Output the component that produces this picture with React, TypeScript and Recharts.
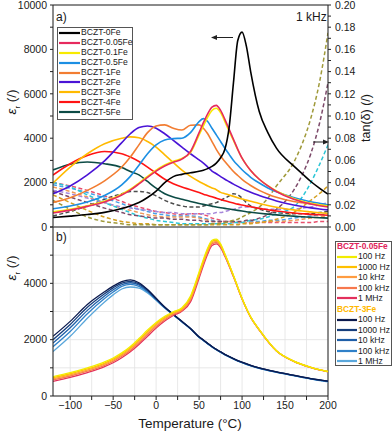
import { CartesianGrid, ComposedChart, Line, ReferenceLine, XAxis, YAxis } from "recharts";

const FONT = "'Liberation Sans', Arial, sans-serif";

// ---- panel a) : 1 kHz permittivity + loss tangent ----
const tempsA = [-120, -100, -80, -60, -40, -30, -20, -10, 0, 10, 20, 30, 40, 50, 55, 60, 65, 70, 75, 80, 85, 90, 95, 100, 105, 110, 120, 130, 140, 160, 170, 180, 190, 200];

const eps0Fe = [430, 490, 560, 660, 830, 950, 1100, 1330, 1620, 2000, 2270, 2370, 2440, 2510, 2560, 2630, 2730, 2880, 3120, 3500, 4500, 6500, 8400, 8780, 8150, 7000, 5200, 4250, 3550, 2750, 2400, 2050, 1750, 1480];
const eps005Fe = [630, 760, 930, 1130, 1440, 1660, 1940, 2240, 2520, 2750, 2920, 3060, 3400, 4250, 4700, 5100, 5400, 5480, 5250, 4850, 4400, 3950, 3500, 3100, 2800, 2550, 2150, 1850, 1600, 1250, 1130, 1040, 960, 900];
const eps01Fe = [680, 800, 960, 1160, 1480, 1700, 1980, 2280, 2560, 2790, 2960, 3090, 3350, 4150, 4550, 4950, 5250, 5350, 5150, 4750, 4300, 3900, 3480, 3100, 2800, 2550, 2150, 1860, 1620, 1280, 1160, 1070, 1000, 950];
const eps05Fe = [820, 950, 1130, 1420, 1900, 2280, 2780, 3300, 3700, 3920, 3980, 4000, 4250, 4750, 4880, 4750, 4450, 4150, 3850, 3550, 3270, 3000, 2780, 2580, 2400, 2240, 1980, 1760, 1590, 1330, 1230, 1140, 1070, 1000];
const eps1Fe = [1110, 1320, 1650, 2080, 2700, 3150, 3700, 4250, 4550, 4600, 4450, 4370, 4580, 4600, 4450, 4200, 3850, 3500, 3200, 2950, 2720, 2500, 2320, 2150, 2000, 1870, 1650, 1480, 1340, 1150, 1090, 1040, 1000, 970];
const eps2Fe = [1500, 1850, 2350, 2980, 3800, 4200, 4480, 4550, 4450, 4200, 3900, 3600, 3300, 3020, 2880, 2700, 2520, 2400, 2270, 2150, 2040, 1930, 1830, 1730, 1640, 1560, 1420, 1290, 1170, 990, 920, 860, 810, 770];
const eps3Fe = [1980, 2700, 3300, 3750, 4000, 4060, 4020, 3850, 3600, 3250, 2900, 2560, 2280, 2050, 1950, 1850, 1760, 1680, 1560, 1500, 1440, 1380, 1320, 1260, 1210, 1160, 1060, 970, 890, 770, 720, 680, 640, 610];
const eps4Fe = [2340, 2850, 3220, 3400, 3300, 3150, 2950, 2700, 2420, 2150, 1950, 1800, 1680, 1550, 1480, 1420, 1360, 1300, 1240, 1180, 1130, 1080, 1030, 990, 950, 910, 840, 780, 720, 630, 600, 570, 550, 530];
const eps5Fe = [2570, 2830, 2930, 2850, 2680, 2500, 2350, 2050, 1750, 1500, 1350, 1250, 1150, 1060, 1020, 980, 940, 900, 870, 840, 810, 780, 750, 720, 690, 665, 620, 580, 545, 490, 465, 440, 420, 400];

const tanGray = [0.010, 0.014, 0.019, 0.025, 0.030, 0.032, 0.032, 0.031, 0.028, 0.024, 0.021, 0.019, 0.018, 0.018, 0.019, 0.020, 0.021, 0.022, 0.024, 0.026, 0.028, 0.030, 0.029, 0.026, 0.022, 0.019, 0.016, 0.014, 0.013, 0.012, 0.012, 0.012, 0.013, 0.014];
const tanCrimson = [0.040, 0.037, 0.033, 0.028, 0.023, 0.020, 0.018, 0.016, 0.014, 0.013, 0.012, 0.011, 0.012, 0.012, 0.011, 0.010, 0.008, 0.007, 0.006, 0.005, 0.005, 0.004, 0.004, 0.004, 0.004, 0.004, 0.004, 0.004, 0.004, 0.004, 0.004, 0.004, 0.005, 0.005];
const tanBlue = [0.038, 0.035, 0.031, 0.026, 0.021, 0.018, 0.016, 0.014, 0.012, 0.011, 0.010, 0.010, 0.010, 0.009, 0.008, 0.007, 0.006, 0.005, 0.005, 0.004, 0.004, 0.004, 0.004, 0.004, 0.004, 0.005, 0.005, 0.006, 0.006, 0.008, 0.009, 0.010, 0.011, 0.012];
const tanCyan = [0.040, 0.036, 0.029, 0.022, 0.016, 0.013, 0.010, 0.008, 0.006, 0.005, 0.004, 0.003, 0.003, 0.003, 0.003, 0.003, 0.003, 0.003, 0.003, 0.003, 0.003, 0.004, 0.004, 0.004, 0.005, 0.006, 0.007, 0.009, 0.012, 0.018, 0.027, 0.040, 0.056, 0.074];
const tanOrange = [0.036, 0.032, 0.027, 0.022, 0.017, 0.015, 0.013, 0.011, 0.010, 0.009, 0.009, 0.009, 0.009, 0.008, 0.007, 0.006, 0.005, 0.005, 0.004, 0.004, 0.004, 0.004, 0.004, 0.004, 0.004, 0.004, 0.004, 0.005, 0.005, 0.006, 0.007, 0.008, 0.009, 0.010];
const tanLilac = [0.033, 0.030, 0.026, 0.022, 0.018, 0.017, 0.016, 0.015, 0.014, 0.013, 0.013, 0.012, 0.012, 0.012, 0.012, 0.012, 0.012, 0.013, 0.013, 0.014, 0.015, 0.016, 0.017, 0.018, 0.018, 0.018, 0.017, 0.016, 0.016, 0.016, 0.017, 0.018, 0.020, 0.022];
const tanGold = [0.029, 0.022, 0.015, 0.009, 0.005, 0.004, 0.003, 0.003, 0.002, 0.002, 0.002, 0.002, 0.002, 0.002, 0.002, 0.002, 0.002, 0.002, 0.002, 0.002, 0.002, 0.002, 0.002, 0.003, 0.003, 0.003, 0.004, 0.005, 0.007, 0.013, 0.018, 0.024, 0.030, 0.037];
const tanMaroon = [0.032, 0.027, 0.022, 0.017, 0.013, 0.011, 0.010, 0.009, 0.008, 0.008, 0.007, 0.007, 0.006, 0.006, 0.005, 0.005, 0.005, 0.005, 0.005, 0.005, 0.005, 0.005, 0.005, 0.005, 0.006, 0.006, 0.008, 0.011, 0.016, 0.033, 0.047, 0.066, 0.093, 0.130];
const tanOlive = [0.024, 0.016, 0.009, 0.005, 0.003, 0.002, 0.002, 0.002, 0.002, 0.002, 0.002, 0.002, 0.002, 0.002, 0.002, 0.002, 0.003, 0.003, 0.003, 0.004, 0.005, 0.006, 0.007, 0.009, 0.011, 0.013, 0.018, 0.026, 0.037, 0.058, 0.075, 0.098, 0.130, 0.175];

// ---- panel b) : frequency dependence ----
const tempsB = [-120, -100, -80, -60, -50, -40, -30, -20, -10, 0, 10, 20, 30, 40, 50, 55, 60, 65, 70, 75, 80, 90, 100, 110, 120, 140, 160, 180, 200];

const fe005_100Hz = [690, 830, 1000, 1210, 1350, 1530, 1760, 2040, 2340, 2610, 2830, 2990, 3130, 3550, 4400, 4850, 5250, 5530, 5570, 5400, 5050, 4280, 3470, 2810, 2360, 1610, 1240, 1020, 870];
const fe005_1000Hz = [650, 790, 960, 1170, 1310, 1490, 1710, 1990, 2290, 2570, 2790, 2960, 3100, 3500, 4350, 4800, 5200, 5490, 5530, 5370, 5030, 4270, 3460, 2805, 2355, 1608, 1238, 1018, 868];
const fe005_10kHz = [610, 750, 920, 1130, 1270, 1450, 1670, 1940, 2240, 2520, 2750, 2930, 3070, 3450, 4300, 4750, 5150, 5440, 5490, 5340, 5010, 4260, 3455, 2800, 2350, 1605, 1236, 1016, 866];
const fe005_100kHz = [570, 710, 880, 1090, 1230, 1410, 1620, 1890, 2190, 2470, 2710, 2900, 3040, 3400, 4250, 4700, 5100, 5400, 5450, 5310, 4990, 4250, 3450, 2795, 2345, 1602, 1234, 1014, 864];
const fe005_1MHz = [520, 660, 830, 1040, 1180, 1360, 1570, 1830, 2120, 2410, 2660, 2860, 3010, 3340, 4180, 4630, 5040, 5340, 5400, 5270, 4960, 4230, 3440, 2790, 2340, 1600, 1230, 1010, 860];

const fe3_100Hz = [2120, 2650, 3250, 3700, 3900, 4060, 4120, 4020, 3780, 3470, 3160, 2900, 2650, 2400, 2100, 1990, 1870, 1760, 1660, 1570, 1480, 1330, 1200, 1090, 1000, 860, 740, 620, 530];
const fe3_1000Hz = [2000, 2540, 3150, 3630, 3840, 4010, 4070, 3980, 3760, 3455, 3150, 2895, 2645, 2395, 2095, 1985, 1865, 1755, 1655, 1565, 1475, 1325, 1195, 1085, 995, 855, 735, 615, 525];
const fe3_10kHz = [1880, 2420, 3040, 3550, 3770, 3950, 4020, 3940, 3730, 3440, 3140, 2890, 2640, 2390, 2090, 1980, 1860, 1750, 1650, 1560, 1470, 1320, 1190, 1080, 990, 850, 730, 610, 520];
const fe3_100kHz = [1750, 2290, 2920, 3460, 3690, 3890, 3960, 3890, 3700, 3420, 3130, 2885, 2635, 2385, 2085, 1975, 1855, 1745, 1645, 1555, 1465, 1315, 1185, 1075, 985, 845, 725, 605, 515];
const fe3_1MHz = [1580, 2120, 2760, 3340, 3590, 3800, 3870, 3830, 3660, 3400, 3120, 2880, 2630, 2380, 2080, 1970, 1850, 1740, 1640, 1550, 1460, 1310, 1180, 1070, 980, 840, 720, 600, 505];

const epsTicksA = [0, 1000, 2000, 3000, 4000, 5000, 6000, 7000, 8000, 9000, 10000];
const tanTicks = [0, 0.01, 0.02, 0.03, 0.04, 0.05, 0.06, 0.07, 0.08, 0.09, 0.1, 0.11, 0.12, 0.13, 0.14, 0.15, 0.16, 0.17, 0.18, 0.19, 0.2];
const epsTicksB = [0, 1000, 2000, 3000, 4000, 5000, 6000];
const tempTicks = [-100, -75, -50, -25, 0, 25, 50, 75, 100, 125, 150, 175, 200];

const solidA = [
  { key: "eps0Fe", name: "BCZT-0Fe", color: "#000000", values: eps0Fe },
  { key: "eps005Fe", name: "BCZT-0.05Fe", color: "#E62A5E", values: eps005Fe },
  { key: "eps01Fe", name: "BCZT-0.1Fe", color: "#F7EA00", values: eps01Fe },
  { key: "eps05Fe", name: "BCZT-0.5Fe", color: "#1C8FE3", values: eps05Fe },
  { key: "eps1Fe", name: "BCZT-1Fe", color: "#F27D32", values: eps1Fe },
  { key: "eps2Fe", name: "BCZT-2Fe", color: "#4A14D6", values: eps2Fe },
  { key: "eps3Fe", name: "BCZT-3Fe", color: "#FFBA00", values: eps3Fe },
  { key: "eps4Fe", name: "BCZT-4Fe", color: "#FF1414", values: eps4Fe },
  { key: "eps5Fe", name: "BCZT-5Fe", color: "#0C4B45", values: eps5Fe },
];

const dashedA = [
  { key: "tanGray", color: "#4d4d4d", values: tanGray },
  { key: "tanCrimson", color: "#E8506E", values: tanCrimson },
  { key: "tanBlue", color: "#4A9FE6", values: tanBlue },
  { key: "tanOrange", color: "#EF9A5A", values: tanOrange },
  { key: "tanLilac", color: "#A687DA", values: tanLilac },
  { key: "tanCyan", color: "#2CC6D6", values: tanCyan },
  { key: "tanGold", color: "#D4A020", values: tanGold },
  { key: "tanMaroon", color: "#7D4A6A", values: tanMaroon },
  { key: "tanOlive", color: "#A09A3A", values: tanOlive },
];

const familyLow = [
  { key: "fe005_100Hz", name: "100 Hz", color: "#F2EC00", values: fe005_100Hz },
  { key: "fe005_1000Hz", name: "1000 Hz", color: "#FFC000", values: fe005_1000Hz },
  { key: "fe005_10kHz", name: "10 kHz", color: "#FF9C40", values: fe005_10kHz },
  { key: "fe005_100kHz", name: "100 kHz", color: "#F7784E", values: fe005_100kHz },
  { key: "fe005_1MHz", name: "1 MHz", color: "#E3305C", values: fe005_1MHz },
];
const familyHigh = [
  { key: "fe3_100Hz", name: "100 Hz", color: "#0B1A4E", values: fe3_100Hz },
  { key: "fe3_1000Hz", name: "1000 Hz", color: "#163E7C", values: fe3_1000Hz },
  { key: "fe3_10kHz", name: "10 kHz", color: "#1F5FA8", values: fe3_10kHz },
  { key: "fe3_100kHz", name: "100 kHz", color: "#2F80C8", values: fe3_100kHz },
  { key: "fe3_1MHz", name: "1 MHz", color: "#5AA7DB", values: fe3_1MHz },
];

const tableA = tempsA.map((t, i) => {
  const row: Record<string, number> = { t };
  [...solidA, ...dashedA].forEach((s) => (row[s.key] = s.values[i]));
  return row;
});
const tableB = tempsB.map((t, i) => {
  const row: Record<string, number> = { t };
  [...familyLow, ...familyHigh].forEach((s) => (row[s.key] = s.values[i]));
  return row;
});

const tickStyle = { fontSize: 10.5, fill: "#1a1a1a", fontFamily: FONT };
const axisStroke = "#222";
const gridStroke = "#e2e2e2";

const fmtEps = (v: number) => (v % 2000 === 0 ? String(v) : "");
const fmtTan = (v: number) => (Math.round(v * 100) % 2 === 0 ? v.toFixed(2) : "");
const fmtTemp = (v: number) => (v % 50 === 0 ? String(v).replace("-", "\u2212") : "");

function Txt({ x, y, size, children, rotate, bold, color, anchor }: any) {
  return (
    <div
      style={{
        position: "absolute",
        left: x,
        top: y,
        fontFamily: FONT,
        fontSize: size,
        fontWeight: bold ? 700 : 400,
        color: color || "#1a1a1a",
        whiteSpace: "nowrap",
        lineHeight: 1,
        transform: `translate(${anchor === "middle" ? "-50%" : "0"}, -50%)${rotate ? ` rotate(${rotate}deg)` : ""}`,
        transformOrigin: anchor === "middle" ? "center" : "left center",
      }}
    >
      {children}
    </div>
  );
}

function EpsTitle({ x, y }: { x: number; y: number }) {
  return (
    <div
      style={{
        position: "absolute",
        left: x,
        top: y,
        transform: "translate(-50%, -50%) rotate(-90deg)",
        fontFamily: FONT,
        fontSize: 13.5,
        color: "#1a1a1a",
        whiteSpace: "nowrap",
      }}
    >
      <i>ε</i>
      <sub style={{ fontSize: 8 }}>r</sub> (/)
    </div>
  );
}

function LegendRow({ x, y, color, label, w = 21 }: any) {
  return (
    <div style={{ position: "absolute", left: x, top: y - 5, height: 10, display: "flex", alignItems: "center" }}>
      <svg width={w} height={10} style={{ display: "block" }}>
        <line x1={0} y1={5} x2={w} y2={5} stroke={color} strokeWidth={2.2} />
      </svg>
      <span style={{ fontFamily: FONT, fontSize: 8.6, color: "#1a1a1a", marginLeft: 1, lineHeight: 1 }}>{label}</span>
    </div>
  );
}

export default function App() {
  return (
    <div style={{ position: "absolute", left: 0, top: 0, width: 392, height: 433, background: "#fff", overflow: "hidden" }}>
      {/* panel a */}
      <div style={{ position: "absolute", left: 0, top: 0 }}>
        <ComposedChart width={392} height={240} data={tableA} margin={{ top: 5, right: 0, bottom: 13, left: 8 }}>
          <CartesianGrid stroke={gridStroke} strokeWidth={0.8} />
          <XAxis dataKey="t" type="number" domain={[-120, 200]} ticks={tempTicks} height={0} tick={false} axisLine={false} tickLine={false} allowDataOverflow />
          <YAxis yAxisId="eps" domain={[0, 10000]} ticks={epsTicksA} tickFormatter={fmtEps} width={45} tick={tickStyle} tickSize={3} tickMargin={3} stroke={axisStroke} interval={0} />
          <YAxis yAxisId="tan" orientation="right" domain={[0, 0.2]} ticks={tanTicks} tickFormatter={fmtTan} width={64} tick={tickStyle} tickSize={3} tickMargin={4} stroke={axisStroke} interval={0} />
          <ReferenceLine yAxisId="eps" y={10000} stroke={axisStroke} />
          {dashedA.map((s) => (
            <Line key={s.key} yAxisId="tan" dataKey={s.key} type="monotone" stroke={s.color} strokeWidth={1.5} strokeDasharray="4 2.5" dot={false} isAnimationActive={false} />
          ))}
          {[...solidA].reverse().map((s) => (
            <Line key={s.key} yAxisId="eps" dataKey={s.key} type="monotone" stroke={s.color} strokeWidth={1.6} dot={false} isAnimationActive={false} />
          ))}
        </ComposedChart>
      </div>

      {/* panel b */}
      <div style={{ position: "absolute", left: 0, top: 222 }}>
        <ComposedChart width={392} height={211} data={tableB} margin={{ top: 5, right: 64, bottom: 0, left: 8 }}>
          <CartesianGrid stroke={gridStroke} strokeWidth={0.8} />
          <XAxis dataKey="t" type="number" domain={[-120, 200]} ticks={tempTicks} tickFormatter={fmtTemp} height={37} tick={tickStyle} tickSize={4} tickMargin={2} stroke={axisStroke} interval={0} allowDataOverflow />
          <YAxis domain={[0, 6000]} ticks={epsTicksB} tickFormatter={(v: number) => (v % 2000 === 0 && v < 6000 ? String(v) : "")} width={45} tick={tickStyle} tickSize={3} tickMargin={3} stroke={axisStroke} interval={0} />
          <ReferenceLine y={6000} stroke={axisStroke} />
          <ReferenceLine x={200} stroke={axisStroke} />
          {[...familyHigh].reverse().map((s) => (
            <Line key={s.key} dataKey={s.key} type="monotone" stroke={s.color} strokeWidth={1.3} dot={false} isAnimationActive={false} />
          ))}
          {[...familyLow].reverse().map((s) => (
            <Line key={s.key} dataKey={s.key} type="monotone" stroke={s.color} strokeWidth={1.3} dot={false} isAnimationActive={false} />
          ))}
        </ComposedChart>
      </div>

      {/* annotation arrows */}
      <svg width={392} height={433} style={{ position: "absolute", left: 0, top: 0, pointerEvents: "none" }}>
        <line x1={214} y1={37.5} x2={233} y2={37.5} stroke="#222" strokeWidth={1} />
        <path d="M211,37.5 L217,35 L217,40 Z" fill="#222" />
        <line x1={313} y1={142} x2={326} y2={142} stroke="#222" strokeWidth={1} />
        <path d="M329,142 L323,139.5 L323,144.5 Z" fill="#222" />
      </svg>

      {/* texts */}
      <Txt x={56} y={17} size={12}>a)</Txt>
      <Txt x={56} y={237} size={12}>b)</Txt>
      <Txt x={296} y={17} size={12}>1 kHz</Txt>
      <EpsTitle x={13} y={102} />
      <EpsTitle x={13} y={268} />
      <Txt x={366} y={118} size={12.5} rotate={-90} anchor="middle">tan(δ) (/)</Txt>
      <Txt x={190} y={424} size={13.5} anchor="middle">Temperature (°C)</Txt>

      {/* legend a */}
      <div style={{ position: "absolute", left: 57, top: 27, width: 76, height: 93, border: "1px solid #555", background: "#fff", boxSizing: "border-box" }} />
      {solidA.map((s, i) => (
        <LegendRow key={s.key} x={59} y={32.7 + i * 9.95} color={s.color} label={s.name} />
      ))}

      {/* legend b */}
      <div style={{ position: "absolute", left: 335, top: 241, width: 57, height: 125, border: "1px solid #555", background: "#fff", boxSizing: "border-box" }} />
      <Txt x={337} y={246} size={8.4} bold color="#E0245A">BCZT-0.05Fe</Txt>
      {familyLow.map((s, i) => (
        <LegendRow key={s.key} x={337} y={256.5 + i * 10.45} color={s.color} label={s.name} w={20} />
      ))}
      <Txt x={337} y={309} size={8.4} bold color="#FFB800">BCZT-3Fe</Txt>
      {familyHigh.map((s, i) => (
        <LegendRow key={s.key} x={337} y={319.5 + i * 10.45} color={s.color} label={s.name} w={20} />
      ))}
    </div>
  );
}
